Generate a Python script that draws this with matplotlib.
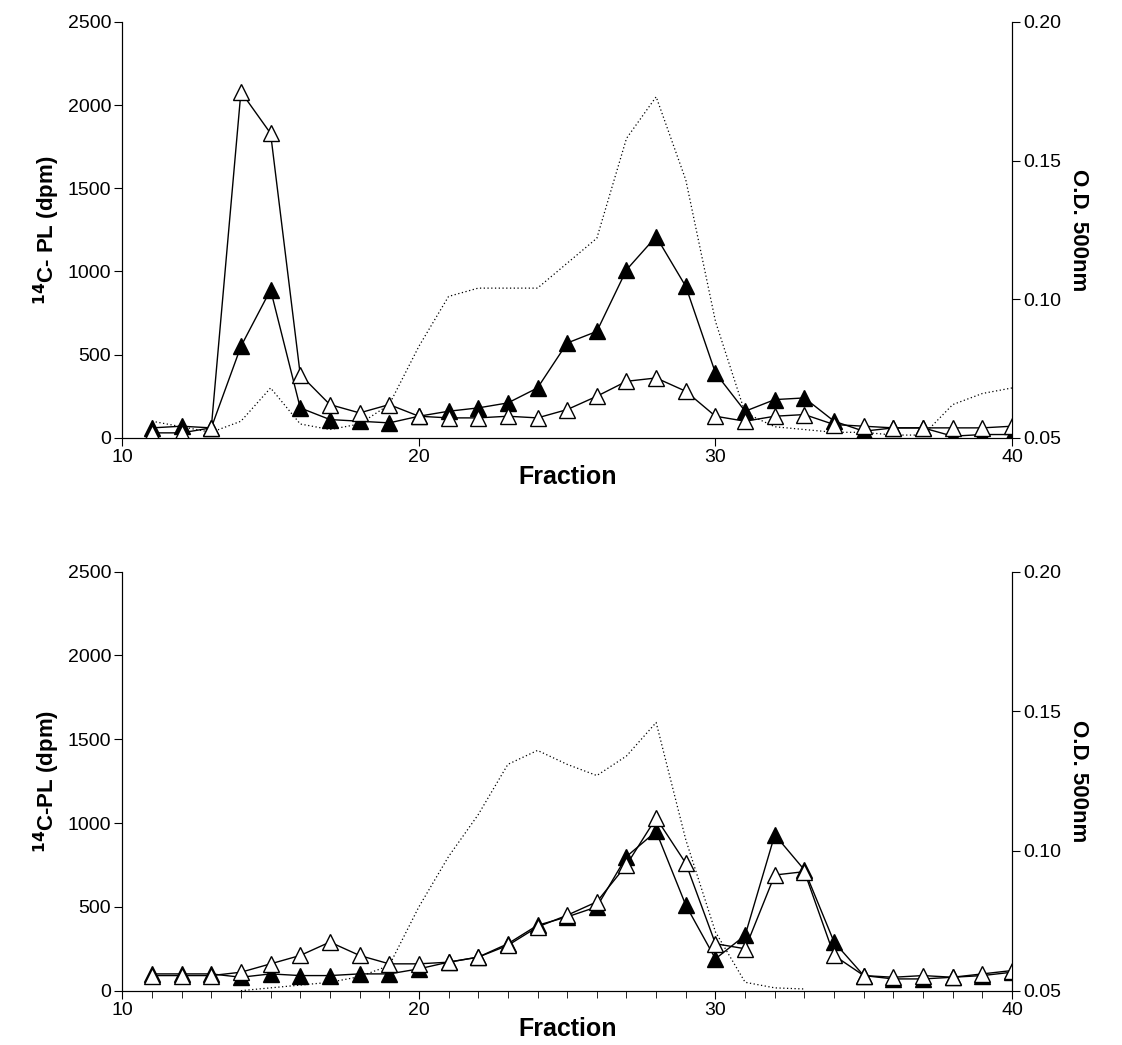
import matplotlib
matplotlib.use("Agg")
import matplotlib.pyplot as plt
import numpy as np

plt.rcParams['font.family'] = ['Liberation Sans', 'DejaVu Sans']

fractions = list(range(11, 41))
top_filled = [60, 70, 60, 550, 890, 180, 110, 100, 90, 130, 160, 180, 210, 300, 570, 640, 1010, 1210, 910, 390, 160, 230, 240, 100, 40, 60, 60, 10, 20, 20]
top_open = [30, 30, 60, 2080, 1830, 380, 200, 150, 200, 130, 120, 120, 130, 120, 170, 250, 340, 360, 280, 130, 100, 130, 140, 80, 70, 60, 60, 60, 60, 70]
top_od = [0.056, 0.054, 0.052, 0.056, 0.068, 0.055, 0.053, 0.055, 0.062, 0.083, 0.101, 0.104, 0.104, 0.104, 0.113, 0.122, 0.158, 0.173, 0.143, 0.092, 0.059, 0.054, 0.053, 0.052, 0.052, 0.051, 0.051, 0.062, 0.066, 0.068]

bot_filled = [100, 100, 100, 80, 100, 90, 90, 100, 100, 130, 170, 200, 280, 390, 440, 500, 800, 950, 510, 190, 330, 930, 720, 290, 90, 70, 70, 80, 90, 110]
bot_open = [90, 90, 90, 110, 160, 210, 290, 210, 160, 160, 170, 200, 270, 380, 450, 530, 750, 1030, 760, 280, 250, 690, 710, 210, 90, 80, 90, 80, 100, 120]
bot_od_frac = list(range(14, 34))
bot_od = [0.050, 0.051, 0.052, 0.053, 0.055, 0.059, 0.080, 0.098, 0.113, 0.131, 0.136, 0.131, 0.127, 0.134, 0.146, 0.104, 0.071, 0.053, 0.051, 0.0506]

fig = plt.figure(figsize=(11.22, 10.45), dpi=100)

def panel(rect, filled, opn, odx, od, ylabel, minor):
    ax = fig.add_axes(rect)
    ax2 = ax.twinx()
    ax2.plot(odx, od, color='black', linestyle=(0, (1, 2)), lw=0.9)
    ax2.set_ylim(0.05, 0.20)
    ax2.set_yticks([0.05, 0.10, 0.15, 0.20])
    ax2.set_yticklabels(['0.05', '0.10', '0.15', '0.20'])
    ax.set_zorder(ax2.get_zorder() + 1)
    ax.patch.set_visible(False)
    ax.plot(fractions, filled, color='black', lw=1, marker='^', ms=11,
            mfc='black', mec='black')
    ax.plot(fractions, opn, color='black', lw=1, marker='^', ms=11,
            mfc='white', mec='black')
    ax.set_xlim(10, 40)
    ax.set_ylim(0, 2500)
    ax.set_xticks([10, 20, 30, 40])
    ax.set_yticks(range(0, 2501, 500))
    if minor:
        ax.set_xticks(range(11, 40), minor=True)
        ax.tick_params(axis='x', which='minor', length=5, direction='out')
    for a in (ax, ax2):
        a.spines['top'].set_visible(False)
        a.tick_params(labelsize=14, length=6, direction='out', pad=2)
    ax.set_xlabel('Fraction', fontsize=18, fontweight='bold', labelpad=-1)
    ax.set_ylabel(ylabel, fontsize=16, fontweight='bold')
    ax2.set_ylabel('O.D. 500nm', fontsize=16, fontweight='bold', rotation=270, labelpad=20)
    return ax

panel([0.109, 0.581, 0.793, 0.398], top_filled, top_open, fractions, top_od,
      '$^{\\mathbf{14}}$C- PL (dpm)', False)
panel([0.109, 0.052, 0.793, 0.401], bot_filled, bot_open, bot_od_frac, bot_od,
      '$^{\\mathbf{14}}$C-PL (dpm)', True)

fig.savefig('out.png', dpi=100)
